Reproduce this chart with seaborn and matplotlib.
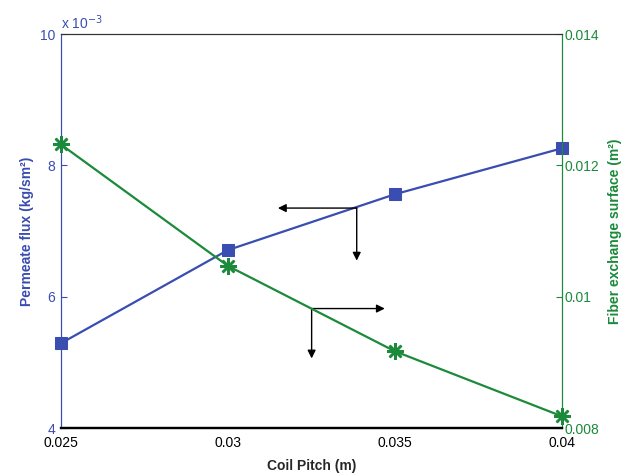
import matplotlib
matplotlib.use("Agg")
import matplotlib.pyplot as plt
import pandas as pd
import seaborn as sns

# Values.
coil_pitch = [0.025, 0.030, 0.035, 0.040]
permeate_flux = [5.29e-3, 6.71e-3, 7.56e-3, 8.26e-3]      # kg/sm2
exchange_surface = [0.01232, 0.01047, 0.00917, 0.00818]   # m2

left_ticks = [4, 6, 8, 10]
right_ticks = [0.008, 0.01, 0.012, 0.014]
x_ticks = [0.025, 0.03, 0.035, 0.04]

blue = "#3a4db0"
green = "#1b8a3a"

sns.set_style("white")
plt.rcParams["font.family"] = ["Liberation Sans", "DejaVu Sans"]

df = pd.DataFrame({
    "pitch": coil_pitch,
    "flux": [v * 1e3 for v in permeate_flux],
    "surface": exchange_surface,
})

fig = plt.figure(figsize=(6.27, 4.73), dpi=100)
ax = fig.add_axes([0.097, 0.095, 0.799, 0.833])
ax2 = ax.twinx()

sns.lineplot(data=df, x="pitch", y="flux", ax=ax, color=blue, lw=1.6,
             marker="s", markersize=8, markeredgecolor=blue, clip_on=False,
             zorder=3)
sns.lineplot(data=df, x="pitch", y="surface", ax=ax2, color=green, lw=1.6,
             marker=(8, 2, 0), markersize=12, markeredgewidth=1.8,
             markeredgecolor=green, clip_on=False, zorder=3)

ax.set_xlim(0.025, 0.04)
ax.set_ylim(4, 10)
ax2.set_ylim(0.008, 0.014)
ax.set_xticks(x_ticks)
ax.set_xticklabels(["0.025", "0.03", "0.035", "0.04"])
ax.set_yticks(left_ticks)
ax.set_yticklabels([str(t) for t in left_ticks])
ax2.set_yticks(right_ticks)
ax2.set_yticklabels(["0.008", "0.01", "0.012", "0.014"])

ax.tick_params(axis="x", direction="in", length=4, labelsize=10, colors="black",
               pad=6)
ax.tick_params(axis="y", direction="in", length=4, labelsize=10, colors=blue,
               pad=4)
ax2.tick_params(axis="y", direction="in", length=4, labelsize=10, colors=green,
                pad=2)
for a in (ax, ax2):
    a.spines["top"].set_color("#333333")
    a.spines["bottom"].set_color("black")
    a.spines["bottom"].set_linewidth(1.6)
    a.spines["left"].set_color(blue)
    a.spines["right"].set_color(green)
    for s in a.spines.values():
        s.set_visible(True)

ax.set_xlabel("Coil Pitch (m)", fontsize=10, fontweight="bold", labelpad=6)
ax.set_ylabel("Permeate flux (kg/sm²)", fontsize=10, fontweight="bold",
              color=blue, labelpad=4)
ax2.set_ylabel("Fiber exchange surface (m²)", fontsize=10, fontweight="bold",
               color=green, labelpad=6)

ax.text(0.0, 1.005, r"x 10$^{-3}$", transform=ax.transAxes, color=blue,
        fontsize=10, ha="left", va="bottom")

# direction arrows
arrow = dict(arrowstyle="-|>", color="black", lw=1, mutation_scale=12,
             shrinkA=0, shrinkB=0)
ax.annotate("", xy=(0.0315, 7.35), xytext=(0.03386, 7.35), arrowprops=arrow)
ax.annotate("", xy=(0.03386, 6.55), xytext=(0.03386, 7.35), arrowprops=arrow)
ax.annotate("", xy=(0.0347, 5.82), xytext=(0.03251, 5.82), arrowprops=arrow)
ax.annotate("", xy=(0.03251, 5.06), xytext=(0.03251, 5.82), arrowprops=arrow)

fig.savefig("out.png", dpi=100)
